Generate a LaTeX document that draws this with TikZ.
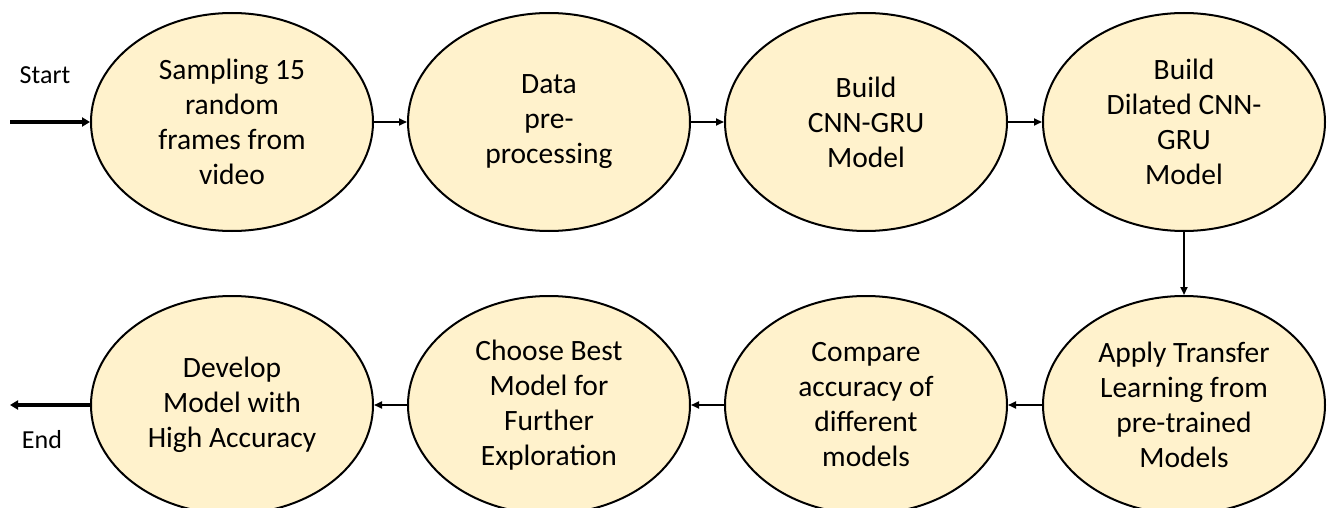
\documentclass[tikz,border=0pt]{standalone}
\usepackage{fontspec}
\setmainfont{Carlito}
\usetikzlibrary{shapes.geometric,arrows.meta}
\definecolor{ellfill}{HTML}{FFF2CC}
\begin{document}
\begin{tikzpicture}[x=1pt,y=-1pt,
  proc/.style={ellipse,draw=black,line width=2pt,fill=ellfill,minimum width=282pt,minimum height=218pt,inner sep=0pt,align=center,font=\fontsize{29.5}{35}\selectfont},
  conn/.style={line width=1.8pt,-{Triangle[length=8pt,width=7pt]}},
  term/.style={line width=3.6pt,-{Triangle[length=8pt,width=9pt]}},
  lbl/.style={font=\fontsize{26}{30}\selectfont,inner sep=0pt}]
\useasboundingbox (0,0) rectangle (1328,508);
\node[proc] (a) at (232,122) {Sampling 15\\random\\frames from\\video};
\node[proc] (b) at (549,122) {Data\\pre-\\processing};
\node[proc] (c) at (866,122) {Build\\CNN-GRU\\Model};
\node[proc] (d) at (1184,122) {Build\\Dilated CNN-\\GRU\\Model};
\node[proc] (e) at (1184,405) {Apply Transfer\\Learning from\\pre-trained\\Models};
\node[proc] (f) at (866,405) {Compare\\accuracy of\\different\\models};
\node[proc] (g) at (549,405) {Choose Best\\Model for\\Further\\Exploration};
\node[proc] (h) at (232,405) {Develop\\Model with\\High Accuracy};
\coordinate (s) at (10,122);
\coordinate (t) at (10,405);
\node[lbl] (start) at (45,75) {Start};
\node[lbl] (end) at (42,440) {End};
\draw[term] (s) -- (a.west);
\draw[conn] (a) -- (b);
\draw[conn] (b) -- (c);
\draw[conn] (c) -- (d);
\draw[conn] (d) -- (e);
\draw[conn] (e) -- (f);
\draw[conn] (f) -- (g);
\draw[conn] (g) -- (h);
\draw[term] (h.west) -- (t);
\end{tikzpicture}
\end{document}
